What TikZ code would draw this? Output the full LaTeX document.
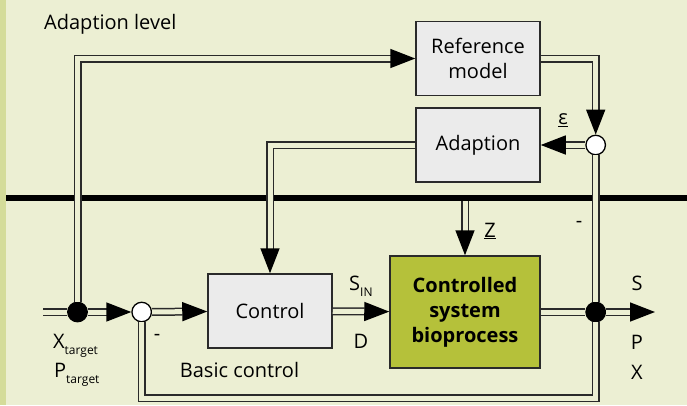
\documentclass[tikz,border=0pt]{standalone}
\usepackage{fontspec}
\setmainfont{Open Sans}
\usetikzlibrary{arrows.meta,calc}
\definecolor{bgc}{HTML}{ECEFD3}
\definecolor{stripec}{HTML}{D4DC9A}
\definecolor{linec}{HTML}{2A2A2A}
\definecolor{boxc}{HTML}{EBEBEB}
\definecolor{plantc}{HTML}{B5C13A}
\tikzset{
  pipe/.style={draw=linec, line width=1.5pt, double=bgc, double distance=5pt},
  tip/.style={-{Triangle[length=25pt,width=19pt,color=black]}},
  block/.style={draw=linec, line width=1.5pt, fill=boxc, minimum width=124pt,
    minimum height=74pt, inner sep=0pt, align=center, font=\fontsize{20}{25}\selectfont},
  joint/.style={circle, draw=black, fill=black, line width=1.3pt, minimum size=19.5pt, inner sep=0pt},
  sum/.style={circle, draw=black, fill=white, line width=1.3pt, minimum size=19.5pt, inner sep=0pt},
  lbl/.style={inner sep=0pt, font=\fontsize{20}{25}\selectfont},
}
\newcommand{\lowsub}[1]{\raisebox{-6pt}{\fontsize{12}{12}\selectfont #1}}
\begin{document}
\begin{tikzpicture}[x=1pt,y=-1pt]
  % background and level separation
  \fill[bgc] (0,0) rectangle (687,405);
  \useasboundingbox (0,0) rectangle (687,405);
  \fill[stripec] (0,0) rectangle (5.5,405);
  \fill[black] (6,195) rectangle (687,201);

  % blocks
  \node[block] (ref) at (478,58.5) {Reference\\model};
  \node[block] (adapt) at (478,145) {Adaption};
  \node[block] (ctrl) at (270,311) {Control};
  \node[block, fill=plantc, minimum width=150pt, minimum height=112pt,
        font=\fontsize{20}{25}\selectfont\bfseries] (plant) at (465,312) {Controlled\\system\\bioprocess};

  % junctions
  \coordinate (in) at (43,312);
  \coordinate (out) at (655,312);
  \coordinate (zsrc) at (465,201);
  \node[joint] (j1) at (77.5,312) {};
  \node[sum] (s1) at (141.7,312) {};
  \node[sum] (s2) at (595.7,145) {};
  \node[joint] (j2) at (595.7,312) {};

  % signal lines
  \draw[pipe] (in) -- (j1);
  \draw[pipe, tip] (j1) -- (s1);
  \draw[pipe, tip] (s1) -- (ctrl);
  \draw[pipe, tip] (ctrl) -- (plant);
  \draw[pipe] (plant) -- (j2);
  \draw[pipe, tip] (j2) -- (out);
  \draw[pipe, tip] (j1) |- (ref);
  \draw[pipe, tip] (ref) -| (s2);
  \draw[pipe, tip] (s2) -- (adapt);
  \draw[pipe, tip] (adapt) -| (ctrl);
  \draw[pipe] (s2) -- (j2);
  \draw[pipe] (s1) |- (595.7,398) -- (j2);
  \draw[pipe, tip] (zsrc) -- (plant);

  % labels
  \node[lbl, anchor=base west] at (44,29) {Adaption level};
  \node[lbl] at (563,120) {\underline{ε}};
  \node[lbl] at (490,231) {\underline{Z}};
  \node[lbl] at (579,224) {-};
  \node[lbl] at (157,337) {-};
  \node[lbl, anchor=base west] at (349,290) {S\lowsub{IN}};
  \node[lbl] at (361,341) {D};
  \node[lbl] at (637,283) {S};
  \node[lbl] at (637,342) {P};
  \node[lbl] at (637,372) {X};
  \node[lbl, anchor=base west] at (53,348) {X\lowsub{target}};
  \node[lbl, anchor=base west] at (54,377) {P\lowsub{target}};
  \node[lbl] at (239.5,370) {Basic control};
\end{tikzpicture}
\end{document}
